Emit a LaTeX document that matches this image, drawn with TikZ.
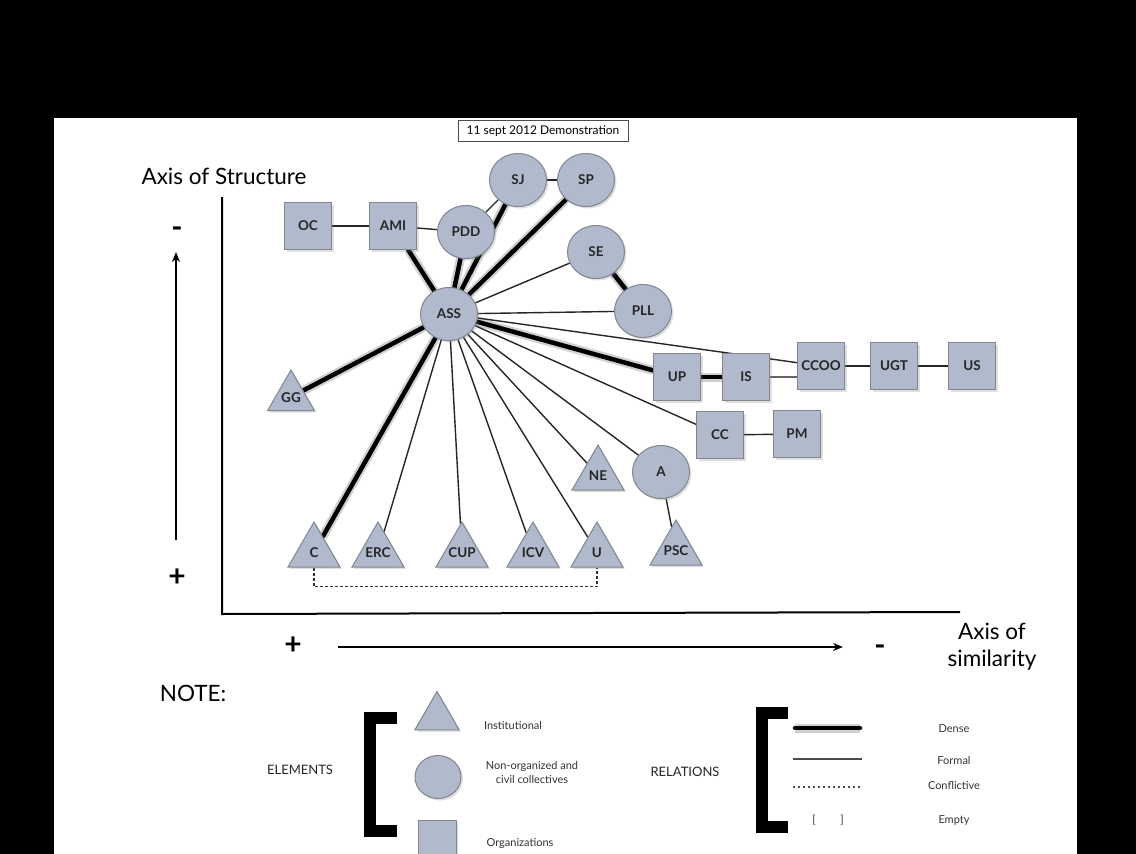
\documentclass[tikz,border=0pt]{standalone}
\usepackage{fontspec}
\setmainfont{Lato}
\usetikzlibrary{shapes.geometric,shadows,arrows.meta}
\definecolor{nfill}{RGB}{176,186,204}
\definecolor{nedge}{RGB}{128,133,143}
\pgfdeclarelayer{bg}
\pgfdeclarelayer{edges}
\pgfsetlayers{bg,edges,main}
\begin{document}
\begin{tikzpicture}[x=1pt,y=-1pt,
  lbl/.style={font=\bfseries\fontsize{13.5}{13.5}\selectfont, text=black!85, inner sep=0pt},
  elem/.style={fill=nfill, draw=nedge, line width=1pt, inner sep=0pt,
    drop shadow={opacity=0.25,shadow xshift=2pt,shadow yshift=-2pt}},
  sq/.style={elem, lbl, rectangle, minimum width=47, minimum height=47},
  ci/.style={elem, lbl, ellipse, minimum width=57, minimum height=53},
  tri/.style={elem, regular polygon, regular polygon sides=3, minimum size=60,
    label={[lbl, yshift=-1pt]center:#1}},
  dense/.style={line width=4.5pt, black, line cap=round,
    preaction={draw=black, opacity=0.18, line width=9pt}},
  formal/.style={line width=1.4pt, black!85},
  conf/.style={line width=1.4pt, black!80, dash pattern=on 3pt off 2pt},
  big/.style={font=\fontsize{22.5}{27}\selectfont, inner sep=0pt},
  sign/.style={font=\fontsize{30}{30}\selectfont\bfseries, inner sep=0pt},
  small/.style={font=\fontsize{11}{14}\selectfont, text=black!80, inner sep=0pt},
  mid/.style={font=\fontsize{13}{15}\selectfont, text=black!85, inner sep=0pt},
]
\useasboundingbox (0,0) rectangle (1136,854);
\begin{pgfonlayer}{bg}
  \fill[black] (0,0) rectangle (1136,854);
  \fill[white] (54,118) rectangle (1077,854);
\end{pgfonlayer}

% title
\node[draw=black!70, line width=0.8pt, minimum width=170, minimum height=21,
  font=\fontsize{12}{13}\selectfont, inner sep=0pt] (title) at (543,131) {11 sept 2012 Demonstration};

% axes
\coordinate (ytop) at (222,197);
\coordinate (orig) at (222,614);
\coordinate (xend) at (960,612);
\draw[line width=2pt] (ytop) -- (orig) -- (xend);
\node[big] (ystr) at (224,176) {Axis of Structure};
\node[sign] (yminus) at (177,232) {-};
\node[sign] (yplus) at (177,578) {+};
\coordinate (yarrs) at (176,540);
\coordinate (yarre) at (176,252);
\draw[line width=2pt, -{Stealth[length=10pt,width=8pt]}] (yarrs) -- (yarre);
\node[sign] (xplus) at (293,646) {+};
\node[sign] (xminus) at (880,650) {-};
\coordinate (xarrs) at (338,647);
\coordinate (xarre) at (843,647);
\draw[line width=2pt, -{Stealth[length=10pt,width=8pt]}] (xarrs) -- (xarre);
\node[big, align=center] (xsim) at (992,647) {Axis of\\similarity};

% nodes
\node[sq] (OC) at (308,226) {OC};
\node[sq] (AMI) at (393,226) {AMI};
\node[ci] (PDD) at (466,232) {PDD};
\node[ci] (SJ) at (518,180) {SJ};
\node[ci] (SP) at (586,180) {SP};
\node[ci] (SE) at (596,252) {SE};
\node[ci] (PLL) at (643,311) {PLL};
\node[ci] (ASS) at (449,314) {ASS};
\node[tri=GG, minimum size=54] (GG) at (291,397) {};
\node[sq] (UP) at (677,377) {UP};
\node[sq] (IS) at (746,377) {IS};
\node[sq] (CCOO) at (821,366) {CCOO};
\node[sq] (UGT) at (894,366) {UGT};
\node[sq] (US) at (972,366) {US};
\node[sq] (CC) at (720,435) {CC};
\node[sq] (PM) at (797,434) {PM};
\node[tri=NE] (NE) at (598,475) {};
\node[ci] (A) at (661,472) {A};
\node[tri=PSC] (PSC) at (676,550) {};
\node[tri=C] (C) at (314,552) {};
\node[tri=ERC] (ERC) at (378,552) {};
\node[tri=CUP] (CUP) at (462,552) {};
\node[tri=ICV] (ICV) at (533,552) {};
\node[tri=U] (U) at (597,552) {};

% edges
\begin{pgfonlayer}{edges}
  \draw[formal] (OC) -- (AMI);
  \draw[formal] (AMI) -- (PDD);
  \draw[formal] (PDD) -- (SJ);
  \draw[formal] (SJ) -- (SP);
  \draw[formal] (ASS) -- (SE);
  \draw[formal] (ASS) -- (PLL);
  \draw[formal] (ASS) -- (CCOO);
  \draw[formal] (ASS) -- (CC);
  \draw[formal] (ASS) -- (A);
  \draw[formal] (ASS) -- (NE);
  \draw[formal] (ASS) -- (U);
  \draw[formal] (ASS) -- (ICV);
  \draw[formal] (ASS) -- (CUP);
  \draw[formal] (ASS) -- (ERC);
  \draw[formal, line width=2pt, black!60] (IS.east) -- (IS.east -| CCOO.west);
  \draw[formal] (CCOO) -- (UGT);
  \draw[formal] (UGT) -- (US);
  \draw[formal] (CC) -- (PM);
  \draw[formal] (A) -- (PSC);
  \draw[dense] (ASS) -- (AMI);
  \draw[dense] (ASS) -- (PDD);
  \draw[dense] (ASS) -- (SJ);
  \draw[dense] (ASS) -- (SP);
  \draw[dense] (SE) -- (PLL);
  \draw[dense] (ASS) -- (UP);
  \draw[dense] (UP) -- (IS);
  \draw[dense] (ASS) -- (C);
  \draw[dense] (ASS) -- (GG);
  \draw[conf] (C.south) -- ++(0,19) -| (U.south);
\end{pgfonlayer}

% legend
\node[big] (note) at (193,693) {NOTE:};
\node[mid] (elems) at (300,770) {ELEMENTS};
\node[mid] (rels) at (685,772) {RELATIONS};
\coordinate (b1a) at (397,718);
\coordinate (b1b) at (370,718);
\coordinate (b1c) at (370,831);
\coordinate (b1d) at (397,831);
\draw[line width=12pt, miter limit=10] (b1a) -- (b1b) -- (b1c) -- (b1d);
\coordinate (b2a) at (788,713);
\coordinate (b2b) at (762,713);
\coordinate (b2c) at (762,827);
\coordinate (b2d) at (788,827);
\draw[line width=12pt] (b2a) -- (b2b) -- (b2c) -- (b2d);

\node[elem, regular polygon, regular polygon sides=3, minimum size=51] (ltri) at (437,717) {};
\node[elem, ellipse, minimum width=46, minimum height=43] (lci) at (438,777) {};
\node[elem, rectangle, minimum size=38] (lsq) at (437,839) {};
\node[small] (linst) at (513,725) {Institutional};
\node[small, align=center] (lnon) at (532,772) {Non-organized and\\civil collectives};
\node[small] (lorg) at (520,843) {Organizations};

\coordinate (d1) at (795,728); \coordinate (d2) at (860,728);
\coordinate (f1) at (793,759); \coordinate (f2) at (862,759);
\coordinate (c1) at (793,787); \coordinate (c2) at (862,787);
\draw[dense] (d1) -- (d2);
\draw[formal, line width=2pt, black!70] (f1) -- (f2);
\draw[line width=1.4pt, black!70, dash pattern=on 2pt off 3pt] (c1) -- (c2);
\node[small] (e1) at (814,820) {[};
\node[small] (e2) at (842,820) {]};
\node[small] (tdense) at (954,729) {Dense};
\node[small] (tformal) at (954,760) {Formal};
\node[small] (tconf) at (954,786) {Conflictive};
\node[small] (tempty) at (954,820) {Empty};
\end{tikzpicture}
\end{document}
